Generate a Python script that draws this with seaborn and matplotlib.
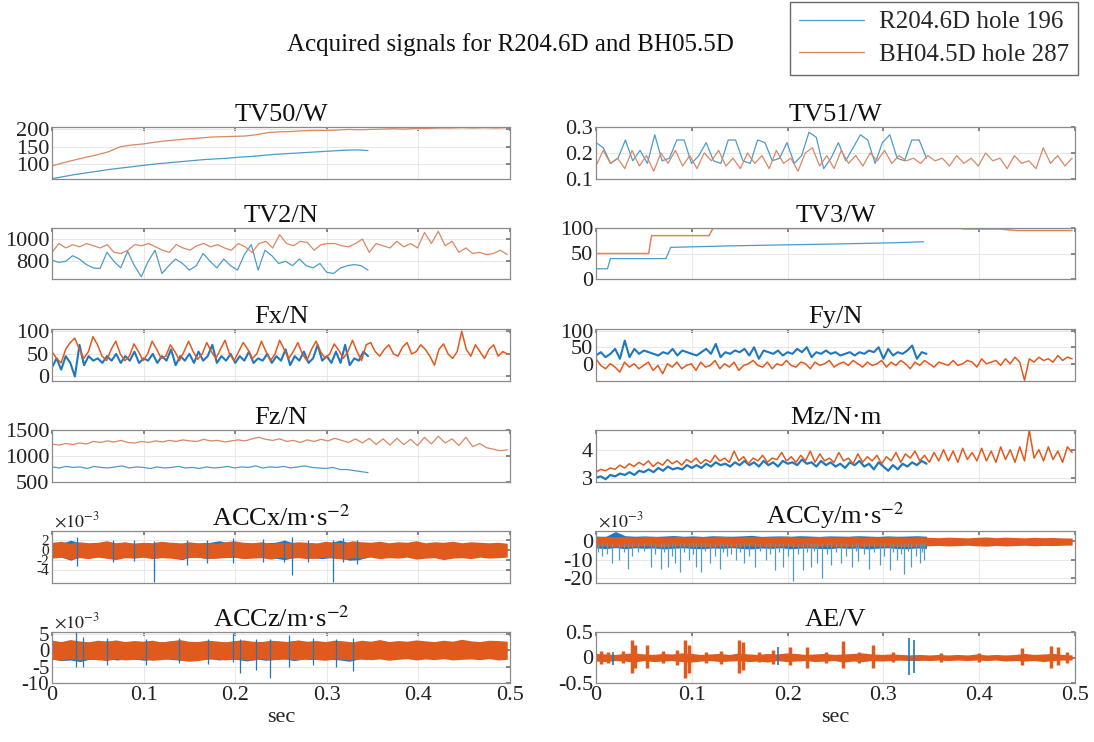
"""
Acquired signals for two drilled holes, 6x2 grid of sensor channels.
"""

import numpy as np
import matplotlib
matplotlib.use("Agg")
import matplotlib.pyplot as plt
import seaborn as sns

sns.set_theme(style="white")
plt.rcParams["font.family"] = ["Liberation Serif", "DejaVu Serif"]
plt.rcParams["mathtext.fontset"] = "stix"
plt.rcParams["axes.unicode_minus"] = False

# series colours (thin lines / dense signals)
BLUE = "#4b9ccb"
ORANGE = "#db8763"
BLUE_D = "#1f77bf"
ORANGE_D = "#e05a1e"

LABEL_BLUE = "R204.6D hole 196"
LABEL_ORANGE = "BH04.5D hole 287"
SUPTITLE = "Acquired signals for R204.6D and BH05.5D"

T_BLUE = 0.345     # end of R204.6D record, s
T_ORANGE = 0.497   # end of BH04.5D record, s
XTICKS = [0, 0.1, 0.2, 0.3, 0.4, 0.5]
XTICK_LABELS = ["0", "0.1", "0.2", "0.3", "0.4", "0.5"]

# ---------------- TV50 / W ----------------
tv50_blue = [58, 64, 70, 75, 80, 85, 89, 93, 97, 101, 104, 107, 110, 113,
             115, 117, 120, 122, 125, 128, 130, 132, 134, 136, 138, 140, 141, 139]
tv50_orange = [95, 104, 112, 120, 127, 136, 150, 155, 158, 163, 167, 170, 173,
               175, 178, 179, 180, 181, 185, 191, 193, 194, 196, 197, 197, 198,
               200, 199, 200, 201, 202, 201, 203, 203, 204, 204, 205, 204, 205, 204, 205]

# ---------------- TV51 / W ----------------
tv51_blue = [0.24, 0.22, 0.16, 0.18, 0.25, 0.17, 0.21, 0.16, 0.27, 0.17, 0.18,
             0.25, 0.25, 0.16, 0.19, 0.24, 0.17, 0.16, 0.25, 0.25, 0.17, 0.16,
             0.25, 0.24, 0.17, 0.18, 0.24, 0.16, 0.19, 0.28, 0.26, 0.14, 0.18,
             0.24, 0.17, 0.22, 0.27, 0.25, 0.16, 0.24, 0.27, 0.18, 0.17, 0.25,
             0.25, 0.18]
tv51_orange = [0.15, 0.21, 0.16, 0.18, 0.14, 0.21, 0.15, 0.19, 0.13, 0.20, 0.16,
               0.21, 0.15, 0.19, 0.14, 0.20, 0.17, 0.21, 0.15, 0.18, 0.14, 0.20,
               0.16, 0.19, 0.14, 0.21, 0.16, 0.18, 0.13, 0.20, 0.22, 0.15, 0.19,
               0.14, 0.21, 0.16, 0.19, 0.15, 0.20, 0.17, 0.21, 0.16, 0.19, 0.17,
               0.18, 0.16, 0.19, 0.17, 0.18, 0.15, 0.19, 0.16, 0.18, 0.15, 0.20,
               0.17, 0.18, 0.14, 0.19, 0.16, 0.17, 0.14, 0.22, 0.16, 0.19, 0.15, 0.18]

# ---------------- TV2 / N ----------------
tv2_blue = [810, 790, 800, 850, 820, 770, 740, 735, 880, 800, 740, 890, 760,
            660, 800, 900, 690, 760, 820, 780, 720, 760, 870, 800, 740, 820,
            760, 720, 860, 950, 720, 900, 850, 780, 800, 760, 820, 760, 740,
            780, 700, 690, 740, 760, 770, 760, 720]
tv2_orange = [880, 960, 920, 950, 930, 960, 940, 920, 950, 880, 870, 900, 950,
              940, 960, 930, 900, 880, 950, 920, 900, 940, 960, 930, 950, 920,
              900, 960, 930, 880, 960, 980, 920, 1040, 960, 940, 980, 970, 900,
              950, 960, 960, 940, 930, 960, 1000, 880, 960, 940, 920, 980, 930,
              960, 920, 1060, 960, 1070, 940, 980, 880, 920, 870, 880, 860, 870,
              900, 860]

# ---------------- TV3 / W (stepped set-points) ----------------
tv3_blue_t = [0, 0.012, 0.015, 0.073, 0.078, 0.14, 0.2, 0.26, 0.31, 0.342]
tv3_blue = [20, 20, 40, 40, 62, 65, 67, 69, 71, 73]
tv3_orange_t = [0, 0.055, 0.058, 0.118, 0.122, 0.38, 0.385, 0.42, 0.44, 0.497]
tv3_orange = [50, 50, 85, 85, 99, 99, 98, 98, 95, 95]

# ---------------- Fx / N ----------------
fx_blue = [20, 40, 15, 45, 30, 0, 70, 25, 45, 35, 40, 30, 45, 35, 50, 30, 45,
           35, 55, 30, 40, 35, 50, 30, 45, 35, 60, 25, 45, 35, 50, 30, 55, 35,
           45, 70, 30, 45, 35, 50, 30, 45, 35, 55, 30, 40, 35, 50, 30, 45, 35,
           60, 25, 45, 35, 55, 30, 40, 70, 35, 45, 30, 55, 30, 70, 25, 40, 35,
           55, 45]
fx_orange = [55, 40, 30, 60, 75, 85, 60, 40, 55, 88, 70, 45, 35, 60, 78, 50,
             35, 45, 72, 55, 35, 50, 78, 60, 40, 45, 70, 55, 35, 55, 78, 55, 38,
             50, 75, 55, 40, 60, 80, 50, 35, 55, 75, 60, 40, 50, 78, 55, 35, 50,
             80, 60, 40, 55, 75, 50, 35, 60, 78, 55, 40, 50, 72, 58, 40, 55, 80,
             55, 35, 70, 75, 55, 45, 60, 70, 50, 45, 65, 75, 50, 55, 70, 60, 45,
             25, 60, 72, 50, 40, 55, 100, 60, 45, 70, 55, 40, 60, 70, 45, 55, 50]

# ---------------- Fy / N ----------------
fy_blue = [25, 35, 20, 30, 45, 15, 70, 20, 45, 30, 40, 35, 30, 25, 35, 30, 45,
           25, 40, 35, 30, 25, 35, 45, 30, 60, 20, 35, 30, 40, 35, 45, 25, 50,
           15, 40, 35, 30, 40, 25, 35, 30, 45, 35, 50, 20, 35, 30, 40, 30, 35,
           25, 30, 35, 25, 35, 30, 40, 35, 50, 15, 45, 25, 35, 30, 40, 55, 15,
           35, 30]
fy_orange = [15, -5, -15, 0, -10, -25, 5, -10, 0, -15, -5, 5, -20, -5, -30, 0,
             -10, 5, -15, -5, 0, -20, 5, -10, -5, 10, -15, 0, -10, 5, -20, -5, 0,
             10, -5, -10, 5, -15, 0, -5, 10, -5, -10, 5, 0, -15, 5, -5, 0, 10,
             -10, 0, 5, -5, 10, 0, -10, 5, -5, 0, 10, -10, 5, -5, 10, 0, -15, 5,
             -5, 10, 0, -10, 5, 0, -5, 10, -5, 0, 10, 5, -10, 15, 0, 5, 10, -5,
             15, 0, 20, 5, -50, 15, 5, 20, 10, 15, 5, 25, 10, 20, 15]

# ---------------- Fz / N ----------------
fz_blue = [790, 770, 800, 780, 790, 760, 800, 780, 770, 790, 810, 770, 790,
           780, 760, 790, 770, 780, 800, 770, 780, 760, 790, 770, 780, 800, 770,
           790, 780, 810, 770, 790, 780, 800, 770, 790, 810, 780, 770, 760, 780,
           740, 740, 720, 700, 680]
fz_orange = [1230, 1210, 1240, 1220, 1250, 1230, 1280, 1260, 1290, 1270, 1300,
             1260, 1250, 1280, 1260, 1290, 1270, 1300, 1280, 1310, 1290, 1280,
             1320, 1290, 1300, 1270, 1290, 1310, 1290, 1330, 1360, 1320, 1300,
             1330, 1280, 1300, 1260, 1310, 1280, 1320, 1290, 1340, 1300, 1260,
             1330, 1250, 1340, 1220, 1330, 1210, 1340, 1220, 1320, 1200, 1360,
             1230, 1380, 1250, 1330, 1200, 1360, 1180, 1240, 1160, 1130, 1100, 1120]

# ---------------- Mz / N·m ----------------
mz_blue = [3.0, 3.05, 2.95, 3.1, 3.05, 3.15, 3.1, 3.2, 3.1, 3.25, 3.2, 3.3, 3.2,
           3.35, 3.25, 3.4, 3.3, 3.35, 3.3, 3.45, 3.35, 3.45, 3.35, 3.5, 3.4,
           3.55, 3.45, 3.5, 3.4, 3.55, 3.45, 3.6, 3.45, 3.55, 3.4, 3.6, 3.45,
           3.55, 3.4, 3.6, 3.5, 3.55, 3.45, 3.65, 3.5, 3.55, 3.4, 3.6, 3.45,
           3.55, 3.4, 3.5, 3.35, 3.55, 3.45, 3.6, 3.4, 3.5, 3.3, 3.55, 3.4, 3.25,
           3.45, 3.3, 3.5, 3.4, 3.55, 3.45, 3.6, 3.5]
mz_orange = [3.2, 3.3, 3.25, 3.35, 3.3, 3.45, 3.35, 3.5, 3.4, 3.55, 3.45, 3.6,
             3.4, 3.55, 3.45, 3.65, 3.5, 3.6, 3.45, 3.65, 3.55,
             3.7, 3.5, 3.65, 3.55, 3.8, 3.6, 3.7, 3.55, 3.95, 3.6, 3.75, 3.5,
             3.7, 3.6, 3.8, 3.55, 3.7, 3.65, 3.9, 3.6,
             3.75, 3.55, 3.8, 3.6, 3.95, 3.55, 3.85, 3.6, 3.7, 3.55, 3.9, 3.6,
             3.7, 3.5, 3.85, 3.55, 3.75, 3.6, 3.8, 3.5,
             3.75, 3.6, 3.9, 3.55, 3.85, 3.7, 3.95, 3.6, 3.8, 3.55, 3.9, 3.6,
             4.0, 3.6, 3.95, 3.55, 4.05, 3.65, 3.9, 3.6,
             4.05, 3.6, 3.95, 3.55, 4.1, 3.65, 4.0, 3.55, 4.1, 3.6, 4.7, 3.7,
             4.0, 3.6, 4.1, 3.65, 3.95, 3.55, 4.1, 3.9]

# ---------------- ACCx (x1e-3 m/s^2): noise envelopes + spikes ----------------
accx_or_hi = [1.5, 1.7, 1.3, 1.6, 1.4, 1.5, 1.8, 1.4, 1.6, 1.3, 1.5, 1.4, 1.7,
              1.5, 1.3, 1.6, 1.4, 1.5, 1.3, 1.6, 1.8, 1.5, 1.4, 1.6, 1.3, 1.5,
              1.4, 1.6, 1.5, 1.3, 1.7, 1.5, 1.4, 1.8, 1.6, 1.5, 1.7, 1.4, 1.6,
              1.5, 1.8, 1.4, 1.6, 1.5, 1.7, 1.4, 1.6, 1.5, 1.4, 1.5, 1.3]
accx_or_lo = [-1.6, -1.4, -1.8, -1.5, -1.7, -1.4, -1.6, -1.9, -1.5, -1.6, -1.4,
              -1.7, -1.5, -1.6, -1.8, -1.5, -1.4, -1.7, -1.6, -1.5, -1.4, -1.7,
              -1.6, -1.5, -1.8, -1.4, -1.6, -1.5, -1.7, -1.6, -1.4, -1.6, -1.8,
              -1.5, -1.6, -1.4, -1.7, -1.5, -1.6, -1.4, -1.8, -1.6, -1.5, -1.9,
              -1.6, -1.5, -1.7, -1.4, -1.6, -1.5, -1.4]
accx_bl_hi = [1.4, 1.3, 1.9, 1.4, 1.3, 1.4, 1.5, 1.3, 1.4, 1.3, 1.4, 1.3, 1.4,
              1.5, 1.3, 1.4, 1.3, 1.5, 1.8, 1.4, 1.3, 1.4, 1.3, 1.4, 1.5, 1.9,
              1.4, 1.3, 1.4, 1.3, 1.5, 1.9, 1.4, 1.3, 1.4]
accx_bl_lo = [-1.5, -1.4, -2.0, -1.4, -1.5, -1.3, -1.6, -1.5, -1.4, -1.5, -1.3,
              -1.6, -1.4, -1.5, -1.9, -1.3, -1.5, -1.6, -1.5, -1.4, -1.5, -1.5,
              -1.3, -1.5, -1.6, -1.9, -1.5, -1.4, -1.5, -1.7, -1.5, -1.6, -2.0,
              -1.9, -1.4]
accx_spike_t = [0.027, 0.067, 0.090, 0.111, 0.147, 0.169, 0.198, 0.230, 0.253,
                0.262, 0.280, 0.307, 0.318, 0.333]
accx_spike_lo = [-3.2, -2.3, -2.2, -6.2, -2.9, -2.5, -2.6, -2.3, -2.3, -4.8,
                 -2.4, -6.2, -2.4, -2.8]
accx_spike_hi = [2.6, 1.9, 2.0, 1.8, 2.0, 2.0, 2.4, 2.1, 2.0, 2.6, 2.0, 1.9, 2.3, 2.0]

# ---------------- ACCy (x1e-3 m/s^2) ----------------
accy_or_hi = [2.6, 2.9, 2.5, 2.8, 2.4, 2.7, 2.9, 2.5, 2.6, 2.8, 2.4, 2.7, 2.5,
              2.9, 2.6, 2.4, 2.8, 2.5, 2.7, 2.6, 2.9, 2.5, 2.4, 2.7, 2.8, 2.5,
              2.6, 2.9, 2.4, 2.7, 2.5, 2.8, 2.6, 2.4, 2.7, 2.3, 2.1, 2.4, 2.2,
              2.0, 2.3, 2.5, 2.1, 2.4, 2.2, 2.0, 2.3, 2.1, 2.2, 2.0, 1.9]
accy_or_lo = [-2.7, -2.5, -2.9, -2.6, -2.8, -2.4, -2.7, -3.0, -2.6, -2.5, -2.8,
              -2.6, -2.9, -2.5, -2.7, -2.8, -2.4, -2.6, -2.9, -2.7, -2.5, -2.8,
              -2.6, -3.0, -2.5, -2.7, -2.8, -2.6, -2.9, -2.5, -2.7, -2.6, -2.8,
              -2.9, -2.5, -2.4, -2.2, -2.5, -2.3, -2.1, -2.4, -2.6, -2.2, -2.5,
              -2.3, -2.1, -2.4, -2.2, -2.3, -2.1, -2.0]
accy_bl_hi = [3.0, 2.8, 5.5, 3.2, 2.9, 3.1, 2.8, 3.0, 3.3, 2.9, 3.1, 2.8, 3.2,
              3.0, 2.9, 3.1, 3.4, 2.8, 3.0, 3.1, 2.9, 3.2, 3.0, 2.8, 3.1, 3.0,
              2.9, 3.2, 3.0, 2.8, 3.1, 2.9, 3.0, 3.2, 2.9]
accy_bl_lo = [-3.6, -3.9, -3.4, -4.0, -3.5, -3.8, -3.6, -4.1, -3.7, -3.5, -3.9,
              -4.0, -3.6, -3.8, -3.4, -3.9, -4.1, -3.6, -3.8, -3.5, -4.0, -3.7,
              -3.6, -3.9, -4.0, -3.5, -3.8, -3.6, -4.1, -3.7, -3.5, -3.9, -4.0,
              -3.6, -3.8]
accy_spike_t = [0.002, 0.006, 0.012, 0.017, 0.024, 0.029, 0.033, 0.038, 0.044,
                0.050, 0.057, 0.062, 0.068, 0.071, 0.075, 0.079, 0.082, 0.088,
                0.092, 0.097, 0.101, 0.104, 0.110, 0.114, 0.119, 0.124, 0.129,
                0.133, 0.137, 0.141, 0.146, 0.150, 0.155, 0.160, 0.166, 0.171,
                0.177, 0.182, 0.187, 0.191, 0.195, 0.200, 0.206, 0.211, 0.216,
                0.220, 0.224, 0.228, 0.231, 0.236, 0.241, 0.245, 0.250, 0.256,
                0.261, 0.267, 0.271, 0.274, 0.280, 0.285, 0.290, 0.296, 0.301,
                0.307, 0.310, 0.314, 0.318, 0.322, 0.326, 0.329, 0.334, 0.338,
                0.340, 0.342]
accy_spike_lo = [-6, -8, -7, -12, -10, -6, -15, -8, -6, -5, -14, -7, -15, -6,
                 -14, -8, -12, -17, -6, -10, -7, -14, -17, -5, -12, -8, -15, -6,
                 -8, -7, -10, -6, -12, -8, -14, -5, -10, -7, -16, -6, -14, -8,
                 -22, -7, -16, -6, -14, -5, -12, -20, -7, -13, -6, -12, -8, -14,
                 -5, -11, -7, -15, -6, -13, -8, -16, -6, -10, -7, -18, -5, -14,
                 -8, -12, -6, -10]

# ---------------- ACCz (x1e-3 m/s^2) ----------------
accz_or_hi = [3.0, 2.6, 3.2, 2.8, 2.5, 3.0, 2.7, 3.1, 2.6, 2.9, 2.7, 3.0, 2.5,
              2.8, 3.2, 2.7, 2.6, 3.0, 2.8, 2.5, 2.9, 3.1, 2.7, 2.6, 3.0, 2.8,
              2.6, 3.1, 2.7, 2.9, 2.6, 3.0, 2.8, 2.5, 3.0, 2.7, 3.2, 2.6, 2.9,
              2.7, 3.1, 2.8, 2.6, 3.0, 2.7, 3.3, 2.8, 2.6, 3.0, 2.9, 2.7]
accz_or_lo = [-2.8, -3.1, -2.6, -3.0, -2.7, -2.9, -3.2, -2.6, -3.0, -2.8, -2.7,
              -3.1, -2.9, -2.6, -3.0, -3.4, -3.2, -2.8, -2.6, -3.0, -2.7, -2.9,
              -3.1, -2.6, -3.0, -2.8, -2.7, -3.0, -2.6, -2.9, -3.1, -2.7, -2.8,
              -3.0, -2.6, -2.9, -2.7, -3.1, -2.8, -2.6, -3.0, -2.7, -2.9, -2.6,
              -3.0, -2.8, -2.7, -2.9, -2.6, -3.0, -2.8]
accz_bl_hi = [2.7, 2.5, 2.9, 2.6, 2.4, 2.6, 2.8, 2.5, 2.6, 2.4, 2.7, 2.6, 2.5,
              2.9, 2.4, 2.6, 2.5, 2.7, 2.5, 2.4, 2.8, 2.5, 2.6, 2.5, 2.8, 2.5,
              2.9, 2.4, 2.6, 2.5, 2.5, 2.7, 2.4, 2.5, 2.5]
accz_bl_lo = [-2.7, -3.2, -3.0, -3.5, -2.8, -2.9, -2.6, -3.0, -2.7, -2.8, -3.1,
              -2.7, -2.6, -2.9, -3.1, -2.7, -2.8, -2.6, -3.0, -2.7, -2.9, -3.3,
              -2.7, -3.1, -2.8, -2.6, -3.2, -2.7, -2.9, -2.6, -2.8, -3.0, -3.4,
              -2.7, -2.8]
accz_spike_t = [0.026, 0.034, 0.060, 0.103, 0.139, 0.170, 0.198, 0.205, 0.223,
                0.238, 0.259, 0.285, 0.310, 0.329]
accz_spike_lo = [-5.0, -5.0, -4.5, -4.5, -4.0, -4.2, -3.5, -7.0, -6.0, -8.5,
                 -5.0, -4.4, -5.0, -6.5]
accz_spike_hi = [5.8, 4.0, 3.6, 3.5, 3.8, 3.4, 5.2, 3.5, 3.5, 3.4, 4.5, 3.6, 3.5, 3.6]

# ---------------- AE / V ----------------
ae_or_hi = [0.08, 0.07, 0.06, 0.08, 0.09, 0.07, 0.06, 0.08, 0.07, 0.09, 0.08,
            0.06, 0.07, 0.08, 0.06, 0.09, 0.07, 0.06, 0.08, 0.07, 0.09, 0.08,
            0.06, 0.07, 0.08, 0.06, 0.07, 0.08, 0.09, 0.07, 0.06, 0.07, 0.06,
            0.05, 0.06, 0.05, 0.06, 0.05, 0.06, 0.05, 0.07, 0.05, 0.06, 0.05,
            0.06, 0.08, 0.06, 0.07, 0.08, 0.06, 0.05]
ae_or_lo = [-0.07, -0.08, -0.06, -0.07, -0.09, -0.06, -0.08, -0.07, -0.06,
            -0.08, -0.09, -0.07, -0.06, -0.08, -0.07, -0.06, -0.08, -0.07, -0.09,
            -0.06, -0.08, -0.07, -0.06, -0.08, -0.07, -0.06, -0.09, -0.07, -0.08,
            -0.06, -0.07, -0.06, -0.05, -0.06, -0.05, -0.06, -0.05, -0.06, -0.05,
            -0.06, -0.05, -0.06, -0.05, -0.07, -0.06, -0.07, -0.06, -0.08, -0.06,
            -0.05, -0.05]
ae_bl_hi = [0.05, 0.04, 0.06, 0.05, 0.04, 0.05, 0.06, 0.04, 0.05, 0.04, 0.05,
            0.06, 0.05, 0.04, 0.05, 0.04, 0.06, 0.05, 0.04, 0.05, 0.06, 0.04,
            0.05, 0.04, 0.05, 0.06, 0.04, 0.05, 0.04, 0.05, 0.06, 0.05, 0.04,
            0.05, 0.04]
ae_bl_lo = [-0.05, -0.06, -0.04, -0.05, -0.06, -0.04, -0.05, -0.04, -0.06,
            -0.05, -0.04, -0.05, -0.06, -0.04, -0.05, -0.04, -0.05, -0.06, -0.04,
            -0.05, -0.04, -0.06, -0.05, -0.04, -0.05, -0.06, -0.04, -0.05, -0.04,
            -0.06, -0.05, -0.04, -0.05, -0.06, -0.04]
ae_or_burst_t = [0.005, 0.013, 0.028, 0.038, 0.041, 0.053, 0.070, 0.085, 0.093,
                 0.097, 0.115, 0.130, 0.149, 0.153, 0.170, 0.185, 0.202, 0.220,
                 0.240, 0.258, 0.275, 0.289, 0.310, 0.360, 0.400, 0.445, 0.475,
                 0.482, 0.492]
ae_or_burst_lo = [-0.12, -0.10, -0.10, -0.30, -0.20, -0.20, -0.10, -0.15, -0.40,
                  -0.30, -0.10, -0.12, -0.30, -0.25, -0.08, -0.12, -0.15, -0.20,
                  -0.10, -0.20, -0.10, -0.20, -0.08, -0.08, -0.08, -0.15, -0.20,
                  -0.15, -0.10]
ae_or_burst_hi = [0.12, 0.10, 0.12, 0.35, 0.25, 0.25, 0.12, 0.15, 0.35, 0.25,
                  0.10, 0.12, 0.35, 0.30, 0.10, 0.15, 0.20, 0.20, 0.10, 0.32,
                  0.10, 0.25, 0.10, 0.08, 0.08, 0.18, 0.22, 0.20, 0.10]
ae_bl_burst_t = [0.018, 0.190, 0.327, 0.332]
ae_bl_burst_lo = [-0.15, -0.15, -0.35, -0.30]
ae_bl_burst_hi = [0.10, 0.20, 0.38, 0.35]


def t_of(values, end):
    """Uniform sample times for a record of given length."""
    return np.linspace(0, end, len(values))


W, H = 1094, 742
fig = plt.figure(figsize=(W / 100, H / 100), dpi=100)
fig.patch.set_facecolor("white")
COLS = [(52, 510), (596, 1075)]
ROWS = [(127, 179), (228, 279), (329, 381), (430, 482), (531, 583), (632, 683)]


def make_ax(r, c):
    x0, x1 = COLS[c]
    y0, y1 = ROWS[r]
    return fig.add_axes([x0 / W, 1 - y1 / H, (x1 - x0) / W, (y1 - y0) / H])


def style(ax, title, ylim, yticks, ylabels, bottom=False, exp=False, ysize=16):
    ax.set_xlim(0, 0.5)
    ax.set_ylim(*ylim)
    ax.set_xticks(XTICKS)
    ax.set_xticklabels(XTICK_LABELS if bottom else [])
    ax.set_yticks(yticks)
    ax.set_yticklabels(ylabels)
    ax.set_facecolor("white")
    ax.grid(True, color="#e4e4e4", lw=0.6)
    ax.set_axisbelow(True)
    ax.tick_params(direction="in", length=3, top=True, right=True,
                   color="#777777", labelcolor="#222222", labelsize=16, pad=2)
    ax.tick_params(axis="y", labelsize=ysize)
    for s in ax.spines.values():
        s.set_color("#8a8a8a")
        s.set_linewidth(0.9)
    ax.set_title(title, fontsize=19, pad=4, color="#111111")
    ax.set_ylabel("")
    ax.set_xlabel("sec" if bottom else "", fontsize=16, labelpad=2)
    if exp:
        ax.text(0.005, 1.0, r"$\times10^{-3}$", transform=ax.transAxes,
                fontsize=13, ha="left", va="bottom", color="#222222")


def line(ax, t, v, color, lw):
    sns.lineplot(x=t, y=v, ax=ax, color=color, lw=lw, estimator=None,
                 sort=False, legend=False)


def band(ax, lo, hi, end, color):
    ax.fill_between(t_of(hi, end), lo, hi, color=color, lw=0)


# TV50
ax = make_ax(0, 0)
line(ax, t_of(tv50_blue, T_BLUE), tv50_blue, BLUE, 0.9)
line(ax, t_of(tv50_orange, T_ORANGE), tv50_orange, ORANGE, 0.9)
style(ax, "TV50/W", (57, 207), [100, 150, 200], ["100", "150", "200"])
legend_handles = ax.lines[:2]

# TV51
ax = make_ax(0, 1)
line(ax, t_of(tv51_blue, T_BLUE), tv51_blue, BLUE, 0.9)
line(ax, t_of(tv51_orange, T_ORANGE), tv51_orange, ORANGE, 0.9)
style(ax, "TV51/W", (0.1, 0.3), [0.1, 0.2, 0.3], ["0.1", "0.2", "0.3"])

# TV2
ax = make_ax(1, 0)
line(ax, t_of(tv2_blue, T_BLUE), tv2_blue, BLUE, 0.9)
line(ax, t_of(tv2_orange, T_ORANGE), tv2_orange, ORANGE, 0.9)
style(ax, "TV2/N", (640, 1100), [800, 1000], ["800", "1000"])

# TV3
ax = make_ax(1, 1)
line(ax, tv3_blue_t, tv3_blue, BLUE, 0.9)
line(ax, tv3_orange_t, tv3_orange, ORANGE, 1.1)
style(ax, "TV3/W", (0, 100), [0, 50, 100], ["0", "50", "100"])

# Fx
ax = make_ax(2, 0)
line(ax, t_of(fx_blue, T_BLUE), fx_blue, BLUE_D, 1.5)
line(ax, t_of(fx_orange, T_ORANGE), fx_orange, ORANGE_D, 1.1)
style(ax, "Fx/N", (-10, 105), [0, 50, 100], ["0", "50", "100"])

# Fy
ax = make_ax(2, 1)
line(ax, t_of(fy_blue, T_BLUE), fy_blue, BLUE_D, 1.5)
line(ax, t_of(fy_orange, T_ORANGE), fy_orange, ORANGE_D, 1.1)
style(ax, "Fy/N", (-52, 105), [0, 50, 100], ["0", "50", "100"])

# Fz
ax = make_ax(3, 0)
line(ax, t_of(fz_blue, T_BLUE), fz_blue, BLUE, 0.9)
line(ax, t_of(fz_orange, T_ORANGE), fz_orange, ORANGE, 0.9)
style(ax, "Fz/N", (500, 1500), [500, 1000, 1500], ["500", "1000", "1500"])

# Mz
ax = make_ax(3, 1)
line(ax, t_of(mz_blue, T_BLUE), mz_blue, BLUE_D, 1.6)
line(ax, t_of(mz_orange, T_ORANGE), mz_orange, ORANGE_D, 1.1)
style(ax, "Mz/N\u00b7m", (2.85, 4.7), [3, 4], ["3", "4"])

# ACCx
ax = make_ax(4, 0)
band(ax, accx_bl_lo, accx_bl_hi, T_BLUE, BLUE_D)
ax.vlines(accx_spike_t, accx_spike_lo, accx_spike_hi, color=BLUE_D, lw=0.9)
band(ax, accx_or_lo, accx_or_hi, T_ORANGE, ORANGE_D)
style(ax, "ACCx/m\u00b7s$^{-2}$", (-6.45, 3.7), [-4, -2, 0, 2],
      ["-4", "-2", "0", "2"], exp=True, ysize=11)

# ACCy
ax = make_ax(4, 1)
band(ax, accy_bl_lo, accy_bl_hi, T_BLUE, BLUE_D)
ax.vlines(accy_spike_t, -1, accy_spike_lo, color=BLUE, lw=0.9)
band(ax, accy_or_lo, accy_or_hi, T_ORANGE, ORANGE_D)
style(ax, "ACCy/m\u00b7s$^{-2}$", (-23, 5.8), [-20, -10, 0],
      ["-20", "-10", "0"], exp=True)

# ACCz
ax = make_ax(5, 0)
band(ax, accz_bl_lo, accz_bl_hi, T_BLUE, BLUE_D)
ax.vlines(accz_spike_t, accz_spike_lo, accz_spike_hi, color=BLUE_D, lw=0.9)
band(ax, accz_or_lo, accz_or_hi, T_ORANGE, ORANGE_D)
style(ax, "ACCz/m\u00b7s$^{-2}$", (-10, 5.5), [-10, -5, 0, 5],
      ["-10", "-5", "0", "5"], bottom=True, exp=True, ysize=15)

# AE
ax = make_ax(5, 1)
band(ax, ae_bl_lo, ae_bl_hi, T_BLUE, BLUE_D)
ax.vlines(ae_bl_burst_t, ae_bl_burst_lo, ae_bl_burst_hi, color=BLUE_D, lw=1.2)
band(ax, ae_or_lo, ae_or_hi, T_ORANGE, ORANGE_D)
ax.vlines(ae_or_burst_t, ae_or_burst_lo, ae_or_burst_hi, color=ORANGE_D, lw=2.5)
style(ax, "AE/V", (-0.5, 0.5), [-0.5, 0, 0.5], ["-0.5", "0", "0.5"], bottom=True)

fig.text(510 / W, 1 - 45 / H, SUPTITLE, ha="center", va="center", fontsize=18,
         color="#111111")
fig.legend(legend_handles, [LABEL_BLUE, LABEL_ORANGE], loc="upper right",
           bbox_to_anchor=(1078 / W, 1 - 2 / H), borderaxespad=0.0,
           frameon=True, fancybox=False, edgecolor="#444444", fontsize=18,
           handlelength=2.6, borderpad=0.35, labelspacing=0.4, handletextpad=0.6)

fig.savefig("out.png", dpi=100, facecolor="white")
